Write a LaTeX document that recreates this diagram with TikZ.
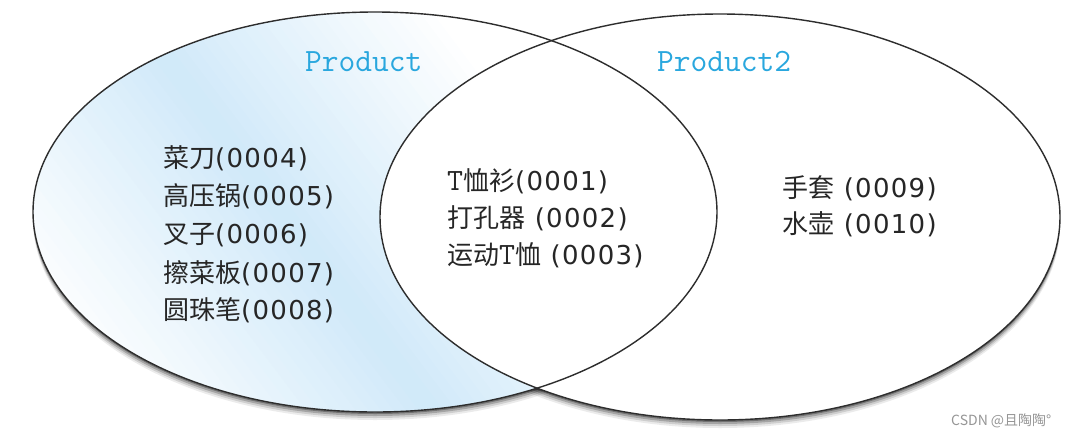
\documentclass[tikz,border=0pt]{standalone}
\usepackage{fontspec}
\setmainfont{DejaVu Sans}[LetterSpace=5]
\newfontfamily\cjk{Noto Sans CJK SC}
\setmonofont{Latin Modern Mono}
\definecolor{setblue}{RGB}{41,167,222}
\definecolor{paleblue}{RGB}{208,233,249}
\definecolor{edge}{RGB}{45,45,45}
\definecolor{wm}{RGB}{150,150,150}
\newcommand{\tee}{{\ttfamily\fontsize{31}{30}\selectfont T}}
\tikzset{
  item/.style={anchor=base west, inner sep=0pt, font=\fontsize{26}{30}\selectfont, text=black!85},
  setlabel/.style={anchor=base west, inner sep=0pt, font=\ttfamily\fontsize{32.5}{34}\selectfont, text=setblue},
  ring/.style={draw=edge, line width=1.4pt},
}
\begin{document}
\begin{tikzpicture}[x=1pt,y=-1pt]
\useasboundingbox (0,0) rectangle (1080,437);
\fill[white] (0,0) rectangle (1080,437);
% shadow
\foreach \s/\o in {8/0.08,6/0.12,4/0.2,2/0.3}{
  \fill[black, opacity=\o] (375,212+\s) ellipse [x radius=342, y radius=200];
  \fill[black, opacity=\o] (720,217+\s) ellipse [x radius=340, y radius=203];
}
% left set shading (band of strips)
\begin{scope}
  \clip (375,212) ellipse [x radius=342, y radius=200];
  \fill[white] (0,0) rectangle (1080,437);
  \begin{scope}[shift={(300,236)}, rotate=37]
    \foreach \a in {-250,-240,...,240}{
      \pgfmathsetmacro{\p}{max(0,100*(1-abs(\a+5)/245))}
      \fill[paleblue!\p!white] (\a,-500) rectangle (\a+10.6,500);
    }
  \end{scope}
\end{scope}
\fill[white] (720,217) ellipse [x radius=340, y radius=203];
\draw[ring] (375,212) ellipse [x radius=342, y radius=200];
\draw[ring] (720,217) ellipse [x radius=340, y radius=203];
% labels
\node[setlabel] (p1) at (305,71) {Product};
\node[setlabel] (p2) at (657,71) {Product2};
% left only
\node[item] (a4) at (163,167) {{\cjk 菜刀}(0004)};
\node[item] (a5) at (163,205) {{\cjk 高压锅}(0005)};
\node[item] (a6) at (163,243) {{\cjk 叉子}(0006)};
\node[item] (a7) at (163,282) {{\cjk 擦菜板}(0007)};
\node[item] (a8) at (163,319) {{\cjk 圆珠笔}(0008)};
% both
\node[item] (b1) at (447,190) {\tee{\cjk 恤衫}(0001)};
\node[item] (b2) at (447,227) {{\cjk 打孔器} (0002)};
\node[item] (b3) at (447,264) {{\cjk 运动}\tee{\cjk 恤} (0003)};
% right only
\node[item] (c9) at (782,197) {{\cjk 手套} (0009)};
\node[item] (c10) at (782,233) {{\cjk 水壶} (0010)};
% watermark
\node[anchor=base west, inner sep=0pt, text=wm, font=\cjk\fontsize{14}{16}\selectfont] (wm) at (951,425) {CSDN @且陶陶°};
\end{tikzpicture}
\end{document}
